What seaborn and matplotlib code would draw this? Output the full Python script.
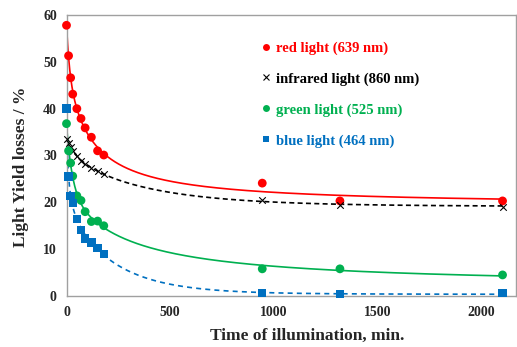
import numpy as np
import pandas as pd
import matplotlib
matplotlib.use("Agg")
import matplotlib.pyplot as plt
import seaborn as sns
from matplotlib.lines import Line2D

# ---- data ----
times = [0, 10, 20, 30, 50, 70, 90, 120, 150, 180, 945, 1320, 2105]
red_vals = [57.8, 51.3, 46.6, 43.1, 40.0, 37.9, 35.9, 33.9, 31.0, 30.1, 24.1, 20.3, 20.3]
ir_vals = [33.5, 32.6, 31.8, 31.0, 29.8, 28.9, 28.2, 27.4, 26.7, 26.1, 20.4, 19.5, 19.1]
green_vals = [36.8, 31.0, 28.4, 25.6, 21.4, 20.4, 18.0, 15.9, 16.0, 15.0, 5.8, 5.8, 4.5]
blue_vals = [40.0, 25.5, 21.4, 19.8, 16.5, 14.1, 12.3, 11.4, 10.2, 8.9, 0.6, 0.4, 0.6]

labels = ["red light (639 nm)", "infrared light (860 nm)",
          "green light (525 nm)", "blue light (464 nm)"]
colors = ["#FF0000", "#000000", "#00B050", "#0070C0"]
markers = ["o", "x", "o", "s"]
msizes = [40, 22, 40, 36]
linestyles = ["-", (0, (3, 2)), "-", (0, (3, 2.5))]
xticks = [0, 500, 1000, 1500, 2000]
yticks = [0, 10, 20, 30, 40, 50, 60]


def trend_fit(t, y):
    """least-squares fit: offset + fast exponential + slow hyperbolic tail"""
    t = np.asarray(t, float)
    y = np.asarray(y, float)
    best = None
    for t1 in np.logspace(0.3, 2.6, 50):
        for t2 in np.logspace(0.5, 3.4, 60):
            A = np.column_stack([np.ones_like(t), np.exp(-t / t1), 1.0 / (1.0 + t / t2)])
            coef, *_ = np.linalg.lstsq(A, y, rcond=None)
            if coef[1] < 0 or coef[2] < 0:
                continue
            sse = np.sum((A @ coef - y) ** 2)
            if best is None or sse < best[0]:
                best = (sse, t1, t2, coef)
    _, t1, t2, c = best
    return lambda tt: c[0] + c[1] * np.exp(-tt / t1) + c[2] / (1.0 + tt / t2)


series = [red_vals, ir_vals, green_vals, blue_vals]

W, H = 517, 347
fig = plt.figure(figsize=(W / 100, H / 100), dpi=100)
sns.set_style("white")
plt.rcParams["font.family"] = ["Liberation Serif", "DejaVu Serif"]
ax = fig.add_axes([66.5 / W, (H - 296) / H, (516 - 66.5) / W, 281 / H])

tfine = np.linspace(0, 2105, 800)
for vals, lab, col, mk, ms, ls in zip(series, labels, colors, markers, msizes, linestyles):
    f = trend_fit(times, vals)
    fit_df = pd.DataFrame({"t": tfine, "y": f(tfine)})
    sns.lineplot(data=fit_df, x="t", y="y", ax=ax, color=col, linestyle=ls,
                 linewidth=1.2, zorder=2)
    df = pd.DataFrame({"t": times, "y": vals})
    if mk == "x":
        sns.scatterplot(data=df, x="t", y="y", ax=ax, marker="x", color=col,
                        s=ms, linewidth=0.8, zorder=3, clip_on=False)
    else:
        sns.scatterplot(data=df, x="t", y="y", ax=ax, marker=mk, color=col,
                        s=ms, edgecolor="none", zorder=3, clip_on=False)

ax.set_xlim(0, 2170)
ax.set_ylim(0, 60)
ax.set_xticks(xticks)
ax.set_yticks(yticks)
for s in ax.spines.values():
    s.set_color("#A0A0A0")
    s.set_linewidth(1.0)
ax.tick_params(axis="both", direction="out", length=4, width=1, color="#A0A0A0",
               labelsize=10, pad=3)
for lbl in ax.get_xticklabels() + ax.get_yticklabels():
    lbl.set_fontweight("bold")
ax.set_xlabel("Time of illumination, min.", fontsize=12.5, fontweight="bold")
ax.set_ylabel("Light Yield losses / %", fontsize=12.5, fontweight="bold")
ax.xaxis.set_label_coords((307 - 66.5) / 449.5, -(336 - 296) / 281, transform=ax.transAxes)
ax.yaxis.set_label_coords(-(66.5 - 21) / 449.5, (296 - 167) / 281, transform=ax.transAxes)
ax.xaxis.label.set_va("center")
ax.yaxis.label.set_va("center")

handles = []
for col, mk in zip(colors, markers):
    if mk == "x":
        handles.append(Line2D([], [], marker="x", color=col, linestyle="none",
                              markersize=4, markeredgewidth=0.8))
    else:
        handles.append(Line2D([], [], marker=mk, color=col, linestyle="none",
                              markersize=5, markeredgewidth=0))
leg = ax.legend(handles, labels, loc="upper left",
                bbox_to_anchor=(254 / W, 1 - 34 / H), bbox_transform=fig.transFigure,
                frameon=False, labelcolor=colors, handlelength=0.6, handletextpad=0.4,
                labelspacing=1.2, borderpad=0,
                prop={"family": "Liberation Serif", "weight": "bold", "size": 10.5})

fig.savefig("out.png", dpi=100)
